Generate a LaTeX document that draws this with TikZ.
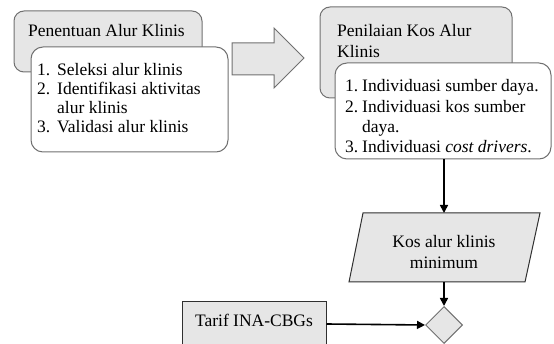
\documentclass[tikz,border=0pt]{standalone}
\usepackage{fontspec}
\setmainfont{Liberation Serif}
\usetikzlibrary{shapes.geometric,arrows.meta}
\definecolor{boxfill}{HTML}{E6E6E6}
\definecolor{boxline}{HTML}{707070}
\definecolor{darkline}{HTML}{303030}
\begin{document}
\begin{tikzpicture}[x=1pt,y=-1pt,
  font=\fontsize{17.5}{19.2}\selectfont,
  grayround/.style={draw=boxline,fill=boxfill,rounded corners=10pt,line width=1pt,inner sep=0pt},
  whiteround/.style={draw=boxline,fill=white,rounded corners=12pt,line width=1pt,inner sep=0pt},
  txt/.style={inner sep=0pt,align=left},
  conn/.style={line width=1.6pt,draw=black,-{Triangle[length=8pt,width=8pt]}},
  blockarrow/.style={draw=boxline,fill=boxfill,line width=1pt,line join=miter},
  paragram/.style={draw=darkline,fill=boxfill,line width=1pt},
  squarebox/.style={draw=darkline,fill=boxfill,line width=1pt,inner sep=0pt},
  decision/.style={diamond,draw=boxline,fill=boxfill,line width=1pt,inner sep=0pt,minimum width=37pt,minimum height=37pt}
]
\useasboundingbox (0,0) rectangle (554,344);
\clip (0,0) rectangle (554,344);

% left group
\node[grayround,minimum width=188pt,minimum height=61pt] (boxA) at (108,41.5) {};
\node[txt,anchor=base west] (titleA) at (28,37) {Penentuan Alur Klinis};
\node[whiteround,minimum width=197pt,minimum height=105pt] (boxB) at (129.5,99.5) {};
\node[txt,anchor=base west,font=\fontsize{17.5}{19.2}\selectfont] (listB) at (37,132.7) {%
\makebox[20pt][l]{1.}Seleksi alur klinis\\
\makebox[20pt][l]{2.}Identifikasi aktivitas\\
\hspace*{20pt}alur klinis\\
\makebox[20pt][l]{3.}Validasi alur klinis};

% block arrow
\draw[blockarrow] (232,43) -- (274,43) -- (274,28) -- (304,58) -- (274,88) -- (274,75) -- (232,75) -- cycle;

% right group
\node[grayround,minimum width=192pt,minimum height=91pt] (boxC) at (416,52.5) {};
\node[txt,anchor=base west,font=\fontsize{17.5}{21}\selectfont] (titleC) at (337,58) {Penilaian Kos Alur\\Klinis};
\node[whiteround,minimum width=216pt,minimum height=96pt] (boxD) at (443,111) {};
\node[txt,anchor=base west,font=\fontsize{17.5}{20.3}\selectfont] (listD) at (345,152.7) {%
\makebox[17pt][l]{1.}Individuasi sumber daya.\\
\makebox[17pt][l]{2.}Individuasi kos sumber\\
\hspace*{17pt}daya.\\
\makebox[17pt][l]{3.}Individuasi \textit{cost drivers}.};

% parallelogram
\draw[paragram] (363,213) -- (540,213) -- (525,282) -- (349,282) -- cycle;
\coordinate (paraTop) at (444,213);
\coordinate (paraBot) at (444,282);
\node[txt,align=center,font=\fontsize{17.5}{21.5}\selectfont] (paraText) at (444,252) {Kos alur klinis\\minimum};

% decision and tariff
\node[decision] (dec) at (444,325) {};
\node[squarebox,minimum width=144pt,minimum height=44pt] (tarif) at (254,324) {};
\node[txt] (tarifText) at (254,320) {Tarif INA-CBGs};

% connectors
\draw[conn] (boxD.south -| paraTop) -- (paraTop);
\draw[conn] (paraBot) -- (dec.north);
\draw[conn] (tarif.east) -- (dec.west);
\end{tikzpicture}
\end{document}
